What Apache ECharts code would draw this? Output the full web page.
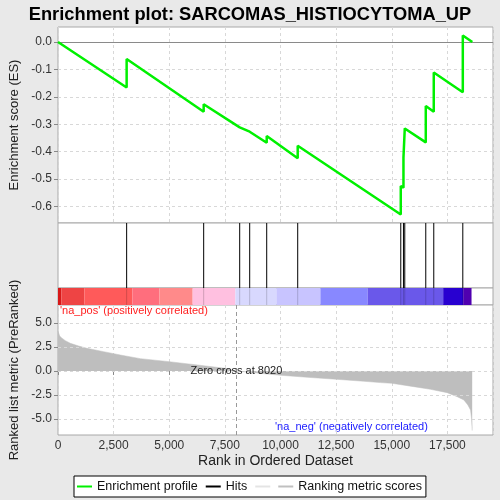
<!DOCTYPE html>
<html lang="en">
<head>
    <meta charset="UTF-8">
    <title>Enrichment plot</title>
    <script type="text/javascript" src="https://cdn.jsdelivr.net/npm/echarts@6/dist/echarts.min.js"></script>
    <style>
        html, body { margin: 0; padding: 0; background: #e9e9e9; }
    </style>
</head>
<body>
<div id="main" style="width: 500px;height:500px;"></div>

<script type="text/javascript">
    // running enrichment score (vertical steps at each hit)
    var esRanks = [0, 3085, 3085, 6547, 6547, 8166, 8166, 8615, 8615, 9380, 9380, 10773, 10773,
        15405, 15405, 15526, 15526, 15585, 15585, 16529, 16529, 16888, 16888, 18193, 18193, 18620];
    var esValues = [0, -0.166, -0.062, -0.254, -0.227, -0.311, -0.309, -0.327, -0.321, -0.367, -0.343, -0.424, -0.378,
        -0.629, -0.525, -0.531, -0.421, -0.424, -0.315, -0.366, -0.233, -0.254, -0.111, -0.183, 0.024, 0];

    // positions of the gene set members in the ranked list
    var hitRanks = [3085, 6547, 8166, 8615, 9380, 10773, 15405, 15526, 15585, 16529, 16888, 18193];

    // ranked list metric
    var metricRanks = [0, 75, 180, 330, 553, 930, 1300, 2050, 2800, 3700, 5000, 6250, 7500, 8020, 9050,
        10000, 11200, 12500, 13750, 14490, 15000, 15990, 16740, 17490, 17940, 18240, 18420, 18540, 18585, 18615];
    var metricValues = [4.18, 3.66, 3.42, 3.17, 2.89, 2.61, 2.37, 2.02, 1.67, 1.29, 0.97, 0.63, 0.28, 0.0, -0.24,
        -0.45, -0.66, -0.87, -1.08, -1.22, -1.29, -1.64, -1.92, -2.27, -2.69, -3.03, -3.56, -4.08, -4.95, -6.24];
    var zeroCross = 8020;

    // colour band under the hits (red -> blue)
    var bandEdges = [0, 148, 1183, 3341, 4555, 6052, 7972, 9816, 11794, 13921, 17311, 18210, 18585];
    var bandColors = ['#d81818', '#ee4444', '#ff5a5a', '#ff6e7d', '#ff8a8a', '#ffc0e0',
        '#d8d8fe', '#c8c4ff', '#8888ff', '#6a58ea', '#2800d0', '#5000b0'];

    // tick labels
    var esTicks = [0, -0.1, -0.2, -0.3, -0.4, -0.5, -0.6];
    var metricTicks = [5, 2.5, 0, -2.5, -5];
    var rankMax = 19550;

    var chartDom = document.getElementById('main');
    var myChart = echarts.init(chartDom);

    var font = 'Liberation Sans';
    var L = 58, R = 7;
    var green = '#00f000';

    var esData = esRanks.map(function (r, i) { return [r, esValues[i]]; });
    var metricData = metricRanks.map(function (r, i) { return [r, metricValues[i]]; });
    var bandData = [];
    for (var i = 0; i < bandColors.length; i++) {
        bandData.push([bandEdges[i], bandEdges[i + 1]]);
    }
    var hitData = hitRanks.map(function (r) { return [r]; });

    function xAxisFor(gi, showLabels, showSplit) {
        return {
            type: 'value', gridIndex: gi, min: 0, max: rankMax, interval: 2500,
            axisLine: {show: false},
            axisTick: {show: showLabels, length: 4, lineStyle: {color: '#888'}},
            axisLabel: {
                show: showLabels, showMaxLabel: false, color: '#333', fontFamily: font, fontSize: 12, margin: 5,
                formatter: function (v) { return v.toLocaleString('en-US'); }
            },
            splitLine: {show: showSplit, lineStyle: {color: '#d8d8d8', type: [3, 3]}}
        };
    }

    function gridAt(top, height) {
        return {
            left: L, right: R, top: top, height: height, show: true,
            backgroundColor: '#fff', borderColor: '#a8a8a8', outerBoundsMode: 'none'
        };
    }

    var option = {
        backgroundColor: '#e9e9e9',
        animation: false,
        title: {
            text: 'Enrichment plot: SARCOMAS_HISTIOCYTOMA_UP',
            left: 'center', top: 1,
            textStyle: {fontFamily: font, fontSize: 18.3, fontWeight: 'bold', color: '#000'}
        },
        grid: [gridAt(27, 196), gridAt(223, 65), gridAt(288, 17), gridAt(305, 130)],
        xAxis: [
            xAxisFor(0, false, true),
            xAxisFor(1, false, false),
            xAxisFor(2, false, false),
            Object.assign(xAxisFor(3, true, true), {
                name: 'Rank in Ordered Dataset', nameLocation: 'middle', nameGap: 19,
                nameTextStyle: {fontFamily: font, fontSize: 14, color: '#222'}
            })
        ],
        yAxis: [
            {
                type: 'value', gridIndex: 0, min: -0.66, max: 0.055,
                name: 'Enrichment score (ES)', nameLocation: 'middle', nameGap: 31,
                nameTextStyle: {fontFamily: font, fontSize: 13, color: '#222'},
                axisLine: {show: false},
                axisTick: {show: true, length: 4, customValues: esTicks, lineStyle: {color: '#888'}},
                axisLabel: {
                    customValues: esTicks, color: '#333', fontFamily: font, fontSize: 12, margin: 6,
                    formatter: function (v) { return v.toFixed(1); }
                },
                splitLine: {show: false}
            },
            {type: 'value', gridIndex: 1, min: 0, max: 1, show: false, splitLine: {show: false}},
            {type: 'value', gridIndex: 2, min: 0, max: 1, show: false, splitLine: {show: false}},
            {
                type: 'value', gridIndex: 3, min: -6.7, max: 6.9,
                name: 'Ranked list metric (PreRanked)', nameLocation: 'middle', nameGap: 31,
                nameTextStyle: {fontFamily: font, fontSize: 13, color: '#222'},
                axisLine: {show: false},
                axisTick: {show: true, length: 4, customValues: metricTicks, lineStyle: {color: '#888'}},
                axisLabel: {
                    customValues: metricTicks, color: '#333', fontFamily: font, fontSize: 12, margin: 6,
                    formatter: function (v) { return v.toFixed(1); }
                },
                splitLine: {show: false}
            }
        ],
        legend: {
            left: 74, top: 476,
            backgroundColor: '#fff', borderColor: '#000', borderWidth: 1, borderRadius: 0,
            padding: [4, 4, 4, 3],
            itemWidth: 15, itemHeight: 2, itemGap: 8,
            textStyle: {fontFamily: font, fontSize: 12.5, color: '#111'},
            formatter: function (name) { return name === 'blank' ? '' : name; },
            data: [
                {name: 'Enrichment profile', icon: 'rect', itemStyle: {color: green}},
                {name: 'Hits', icon: 'rect', itemStyle: {color: '#000'}},
                {name: 'blank', icon: 'rect', itemStyle: {color: '#e4e4e4'}},
                {name: 'Ranking metric scores', icon: 'rect', itemStyle: {color: '#c0c0c0'}}
            ]
        },
        graphic: [
            {
                type: 'text', left: 60, top: 305,
                style: {text: "'na_pos' (positively correlated)", fill: '#ff2020', font: '11px "Liberation Sans"'}
            },
            {
                type: 'text', left: 275, top: 421,
                style: {text: "'na_neg' (negatively correlated)", fill: '#2020ff', font: '11px "Liberation Sans"'}
            }
        ],
        series: [
            {
                name: 'Ranking metric scores',
                type: 'line', xAxisIndex: 3, yAxisIndex: 3,
                data: metricData, showSymbol: false,
                lineStyle: {width: 0.5, color: '#bebebe'},
                itemStyle: {color: '#c0c0c0'},
                areaStyle: {color: '#bebebe', opacity: 1, origin: 0},
                markLine: {
                    silent: true, symbol: 'none', label: {show: false},
                    data: metricTicks.map(function (v) {
                        return {yAxis: v, lineStyle: {color: '#d8d8d8', type: [3, 3], width: 1}};
                    }).concat([{xAxis: zeroCross, lineStyle: {color: '#999', type: [4, 3], width: 1}}])
                },
                markPoint: {
                    symbol: 'rect', symbolSize: 0,
                    label: {
                        show: true, position: 'inside', formatter: 'Zero cross at ' + zeroCross,
                        fontFamily: font, fontSize: 11, color: '#222'
                    },
                    data: [{coord: [zeroCross, 0]}]
                },
                z: 2
            },
            {
                name: 'blank', type: 'line', xAxisIndex: 3, yAxisIndex: 3, data: []
            },
            {
                name: 'ES grid', type: 'line', xAxisIndex: 0, yAxisIndex: 0, data: [],
                markLine: {
                    silent: true, symbol: 'none', label: {show: false},
                    data: esTicks.map(function (v) {
                        return {
                            yAxis: v,
                            lineStyle: v === 0 ? {color: '#8a8a8a', type: 'solid', width: 1}
                                : {color: '#d8d8d8', type: [3, 3], width: 1}
                        };
                    })
                }
            },
            {
                name: 'Enrichment profile',
                type: 'line', xAxisIndex: 0, yAxisIndex: 0,
                data: esData, showSymbol: false,
                lineStyle: {width: 2.5, color: green},
                itemStyle: {color: green},
                z: 5
            },
            {
                name: 'Hits',
                type: 'custom', xAxisIndex: 1, yAxisIndex: 1,
                data: hitData,
                itemStyle: {color: '#000'},
                renderItem: function (params, api) {
                    var top = api.coord([api.value(0), 1]);
                    var bot = api.coord([api.value(0), 0]);
                    return {
                        type: 'line',
                        shape: {x1: top[0], y1: top[1], x2: bot[0], y2: bot[1]},
                        style: {stroke: '#000', lineWidth: 1}
                    };
                }
            },
            {
                name: 'band',
                type: 'custom', xAxisIndex: 2, yAxisIndex: 2,
                data: bandData,
                renderItem: function (params, api) {
                    var a = api.coord([api.value(0), 1]);
                    var b = api.coord([api.value(1), 0]);
                    return {
                        type: 'rect',
                        shape: {x: a[0], y: a[1], width: b[0] - a[0], height: b[1] - a[1]},
                        style: {fill: bandColors[params.dataIndex]}
                    };
                }
            },
            {
                name: 'band hits',
                type: 'custom', xAxisIndex: 2, yAxisIndex: 2,
                data: hitData,
                renderItem: function (params, api) {
                    var top = api.coord([api.value(0), 1]);
                    var bot = api.coord([api.value(0), 0]);
                    return {
                        type: 'line',
                        shape: {x1: top[0], y1: top[1], x2: bot[0], y2: bot[1]},
                        style: {stroke: 'rgba(0,0,0,0.18)', lineWidth: 1}
                    };
                },
                z: 3
            }
        ]
    };

    option && myChart.setOption(option);
</script>
</body>
</html>
